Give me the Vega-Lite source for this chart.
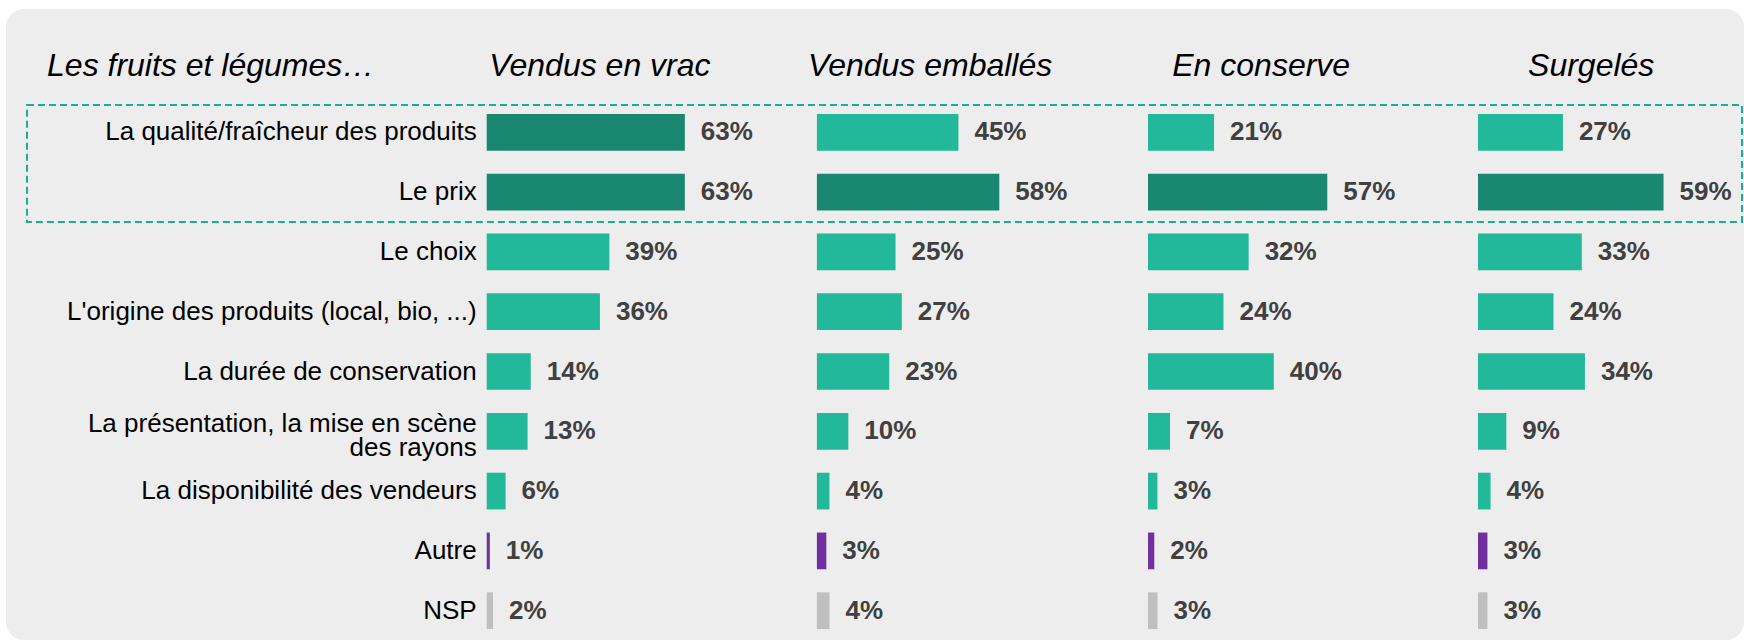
{
  "$schema": "https://vega.github.io/schema/vega-lite/v6.json",
  "width": 1738,
  "height": 631,
  "autosize": {"type": "none"},
  "padding": {"left": 6, "top": 9, "right": 0, "bottom": 0},
  "background": "white",
  "config": {
    "view": {"fill": "#ededed", "stroke": null, "cornerRadius": 18},
    "text": {"font": "Liberation Sans"}
  },
  "data": {
    "values": [
      {"support": "Vendus en vrac", "critere": "La qualité/fraîcheur des produits", "part": 0.63, "groupe": "principal"},
      {"support": "Vendus en vrac", "critere": "Le prix", "part": 0.63, "groupe": "principal"},
      {"support": "Vendus en vrac", "critere": "Le choix", "part": 0.39, "groupe": "secondaire"},
      {"support": "Vendus en vrac", "critere": "L'origine des produits (local, bio, ...)", "part": 0.36, "groupe": "secondaire"},
      {"support": "Vendus en vrac", "critere": "La durée de conservation", "part": 0.14, "groupe": "secondaire"},
      {"support": "Vendus en vrac", "critere": "La présentation, la mise en scène\ndes rayons", "part": 0.13, "groupe": "secondaire"},
      {"support": "Vendus en vrac", "critere": "La disponibilité des vendeurs", "part": 0.06, "groupe": "secondaire"},
      {"support": "Vendus en vrac", "critere": "Autre", "part": 0.01, "groupe": "autre"},
      {"support": "Vendus en vrac", "critere": "NSP", "part": 0.02, "groupe": "nsp"},
      {"support": "Vendus emballés", "critere": "La qualité/fraîcheur des produits", "part": 0.45, "groupe": "secondaire"},
      {"support": "Vendus emballés", "critere": "Le prix", "part": 0.58, "groupe": "principal"},
      {"support": "Vendus emballés", "critere": "Le choix", "part": 0.25, "groupe": "secondaire"},
      {"support": "Vendus emballés", "critere": "L'origine des produits (local, bio, ...)", "part": 0.27, "groupe": "secondaire"},
      {"support": "Vendus emballés", "critere": "La durée de conservation", "part": 0.23, "groupe": "secondaire"},
      {"support": "Vendus emballés", "critere": "La présentation, la mise en scène\ndes rayons", "part": 0.10, "groupe": "secondaire"},
      {"support": "Vendus emballés", "critere": "La disponibilité des vendeurs", "part": 0.04, "groupe": "secondaire"},
      {"support": "Vendus emballés", "critere": "Autre", "part": 0.03, "groupe": "autre"},
      {"support": "Vendus emballés", "critere": "NSP", "part": 0.04, "groupe": "nsp"},
      {"support": "En conserve", "critere": "La qualité/fraîcheur des produits", "part": 0.21, "groupe": "secondaire"},
      {"support": "En conserve", "critere": "Le prix", "part": 0.57, "groupe": "principal"},
      {"support": "En conserve", "critere": "Le choix", "part": 0.32, "groupe": "secondaire"},
      {"support": "En conserve", "critere": "L'origine des produits (local, bio, ...)", "part": 0.24, "groupe": "secondaire"},
      {"support": "En conserve", "critere": "La durée de conservation", "part": 0.40, "groupe": "secondaire"},
      {"support": "En conserve", "critere": "La présentation, la mise en scène\ndes rayons", "part": 0.07, "groupe": "secondaire"},
      {"support": "En conserve", "critere": "La disponibilité des vendeurs", "part": 0.03, "groupe": "secondaire"},
      {"support": "En conserve", "critere": "Autre", "part": 0.02, "groupe": "autre"},
      {"support": "En conserve", "critere": "NSP", "part": 0.03, "groupe": "nsp"},
      {"support": "Surgelés", "critere": "La qualité/fraîcheur des produits", "part": 0.27, "groupe": "secondaire"},
      {"support": "Surgelés", "critere": "Le prix", "part": 0.59, "groupe": "principal"},
      {"support": "Surgelés", "critere": "Le choix", "part": 0.33, "groupe": "secondaire"},
      {"support": "Surgelés", "critere": "L'origine des produits (local, bio, ...)", "part": 0.24, "groupe": "secondaire"},
      {"support": "Surgelés", "critere": "La durée de conservation", "part": 0.34, "groupe": "secondaire"},
      {"support": "Surgelés", "critere": "La présentation, la mise en scène\ndes rayons", "part": 0.09, "groupe": "secondaire"},
      {"support": "Surgelés", "critere": "La disponibilité des vendeurs", "part": 0.04, "groupe": "secondaire"},
      {"support": "Surgelés", "critere": "Autre", "part": 0.03, "groupe": "autre"},
      {"support": "Surgelés", "critere": "NSP", "part": 0.03, "groupe": "nsp"}
    ]
  },
  "encoding": {
    "y": {
      "field": "critere",
      "type": "nominal",
      "axis": null,
      "scale": {
        "type": "band",
        "domain": ["en-tête", "La qualité/fraîcheur des produits", "Le prix", "Le choix", "L'origine des produits (local, bio, ...)", "La durée de conservation", "La présentation, la mise en scène\ndes rayons", "La disponibilité des vendeurs", "Autre", "NSP"],
        "range": [33.6, 631.6],
        "paddingInner": 0,
        "paddingOuter": 0
      }
    }
  },
  "layer": [
    {
      "transform": [{"filter": {"field": "support", "equal": "Vendus en vrac"}}],
      "layer": [
        {
          "transform": [{"aggregate": [{"op": "count", "as": "n"}]}],
          "mark": {"type": "rect", "fill": "#ffffff", "fillOpacity": 0, "stroke": "#1aaf8f", "strokeWidth": 2, "strokeDash": [7, 4]},
          "encoding": {
            "x": {"datum": -1.4617, "type": "quantitative", "scale": {"domain": [-1.5285, 3.9978], "nice": false, "zero": false}, "axis": null},
            "x2": {"datum": 3.9914},
            "y": {"datum": "La qualité/fraîcheur des produits", "type": "nominal", "bandPosition": 0.045},
            "y2": {"datum": "Le choix", "bandPosition": 0}
          }
        },
        {
          "mark": {"type": "bar", "height": {"band": 0.614}},
          "encoding": {
            "x": {"field": "part", "type": "quantitative", "scale": {"domain": [-1.5285, 3.9978], "nice": false, "zero": false}, "axis": null},
            "color": {"field": "groupe", "type": "nominal", "legend": null, "scale": {"domain": ["principal", "secondaire", "autre", "nsp"], "range": ["#1a8870", "#21b999", "#7030a0", "#bfbfbf"]}}
          }
        },
        {
          "mark": {"type": "text", "align": "left", "baseline": "middle", "dx": 16, "fontSize": 26, "fontWeight": "bold", "color": "#404040"},
          "encoding": {
            "x": {"field": "part", "type": "quantitative", "scale": {"domain": [-1.5285, 3.9978], "nice": false, "zero": false}, "axis": null},
            "text": {"field": "part", "type": "quantitative", "format": ".0%"}
          }
        },
        {
          "transform": [{"filter": "indexof(datum.critere, 'rayons') < 0"}],
          "mark": {"type": "text", "align": "right", "baseline": "middle", "dx": -10, "fontSize": 26, "color": "#000000"},
          "encoding": {
            "x": {"datum": 0, "type": "quantitative", "scale": {"domain": [-1.5285, 3.9978], "nice": false, "zero": false}, "axis": null},
            "text": {"field": "critere", "type": "nominal"}
          }
        },
        {
          "transform": [{"filter": "indexof(datum.critere, 'rayons') >= 0"}],
          "mark": {"type": "text", "align": "right", "baseline": "middle", "dx": -10, "dy": -7, "fontSize": 26, "color": "#000000", "lineBreak": "\n", "lineHeight": 24},
          "encoding": {
            "x": {"datum": 0, "type": "quantitative", "scale": {"domain": [-1.5285, 3.9978], "nice": false, "zero": false}, "axis": null},
            "text": {"field": "critere", "type": "nominal"}
          }
        },
        {
          "transform": [{"aggregate": [{"op": "count", "as": "n"}], "groupby": ["support"]}],
          "mark": {"type": "text", "align": "center", "baseline": "alphabetic", "dy": 3.5, "fontSize": 32, "fontStyle": "italic", "color": "#000000"},
          "encoding": {
            "x": {"datum": 0.36, "type": "quantitative", "scale": {"domain": [-1.5285, 3.9978], "nice": false, "zero": false}, "axis": null},
            "y": {"datum": "en-tête", "type": "nominal"},
            "text": {"field": "support", "type": "nominal"}
          }
        },
        {
          "transform": [{"aggregate": [{"op": "count", "as": "n"}]}],
          "mark": {"type": "text", "align": "left", "baseline": "alphabetic", "dy": 3.5, "fontSize": 32, "fontStyle": "italic", "color": "#000000", "text": "Les fruits et légumes…"},
          "encoding": {
            "x": {"datum": -1.398, "type": "quantitative", "scale": {"domain": [-1.5285, 3.9978], "nice": false, "zero": false}, "axis": null},
            "y": {"datum": "en-tête", "type": "nominal"}
          }
        }
      ]
    },
    {
      "transform": [{"filter": {"field": "support", "equal": "Vendus emballés"}}],
      "layer": [
        {
          "mark": {"type": "bar", "height": {"band": 0.614}},
          "encoding": {
            "x": {"field": "part", "type": "quantitative", "scale": {"domain": [-2.5784, 2.9479], "nice": false, "zero": false}, "axis": null},
            "color": {"field": "groupe", "type": "nominal", "legend": null, "scale": {"domain": ["principal", "secondaire", "autre", "nsp"], "range": ["#1a8870", "#21b999", "#7030a0", "#bfbfbf"]}}
          }
        },
        {
          "mark": {"type": "text", "align": "left", "baseline": "middle", "dx": 16, "fontSize": 26, "fontWeight": "bold", "color": "#404040"},
          "encoding": {
            "x": {"field": "part", "type": "quantitative", "scale": {"domain": [-2.5784, 2.9479], "nice": false, "zero": false}, "axis": null},
            "text": {"field": "part", "type": "quantitative", "format": ".0%"}
          }
        },
        {
          "transform": [{"aggregate": [{"op": "count", "as": "n"}], "groupby": ["support"]}],
          "mark": {"type": "text", "align": "center", "baseline": "alphabetic", "dy": 3.5, "fontSize": 32, "fontStyle": "italic", "color": "#000000"},
          "encoding": {
            "x": {"datum": 0.36, "type": "quantitative", "scale": {"domain": [-2.5784, 2.9479], "nice": false, "zero": false}, "axis": null},
            "y": {"datum": "en-tête", "type": "nominal"},
            "text": {"field": "support", "type": "nominal"}
          }
        }
      ]
    },
    {
      "transform": [{"filter": {"field": "support", "equal": "En conserve"}}],
      "layer": [
        {
          "mark": {"type": "bar", "height": {"band": 0.614}},
          "encoding": {
            "x": {"field": "part", "type": "quantitative", "scale": {"domain": [-3.6312, 1.8951], "nice": false, "zero": false}, "axis": null},
            "color": {"field": "groupe", "type": "nominal", "legend": null, "scale": {"domain": ["principal", "secondaire", "autre", "nsp"], "range": ["#1a8870", "#21b999", "#7030a0", "#bfbfbf"]}}
          }
        },
        {
          "mark": {"type": "text", "align": "left", "baseline": "middle", "dx": 16, "fontSize": 26, "fontWeight": "bold", "color": "#404040"},
          "encoding": {
            "x": {"field": "part", "type": "quantitative", "scale": {"domain": [-3.6312, 1.8951], "nice": false, "zero": false}, "axis": null},
            "text": {"field": "part", "type": "quantitative", "format": ".0%"}
          }
        },
        {
          "transform": [{"aggregate": [{"op": "count", "as": "n"}], "groupby": ["support"]}],
          "mark": {"type": "text", "align": "center", "baseline": "alphabetic", "dy": 3.5, "fontSize": 32, "fontStyle": "italic", "color": "#000000"},
          "encoding": {
            "x": {"datum": 0.36, "type": "quantitative", "scale": {"domain": [-3.6312, 1.8951], "nice": false, "zero": false}, "axis": null},
            "y": {"datum": "en-tête", "type": "nominal"},
            "text": {"field": "support", "type": "nominal"}
          }
        }
      ]
    },
    {
      "transform": [{"filter": {"field": "support", "equal": "Surgelés"}}],
      "layer": [
        {
          "mark": {"type": "bar", "height": {"band": 0.614}},
          "encoding": {
            "x": {"field": "part", "type": "quantitative", "scale": {"domain": [-4.6804, 0.8458], "nice": false, "zero": false}, "axis": null},
            "color": {"field": "groupe", "type": "nominal", "legend": null, "scale": {"domain": ["principal", "secondaire", "autre", "nsp"], "range": ["#1a8870", "#21b999", "#7030a0", "#bfbfbf"]}}
          }
        },
        {
          "mark": {"type": "text", "align": "left", "baseline": "middle", "dx": 16, "fontSize": 26, "fontWeight": "bold", "color": "#404040"},
          "encoding": {
            "x": {"field": "part", "type": "quantitative", "scale": {"domain": [-4.6804, 0.8458], "nice": false, "zero": false}, "axis": null},
            "text": {"field": "part", "type": "quantitative", "format": ".0%"}
          }
        },
        {
          "transform": [{"aggregate": [{"op": "count", "as": "n"}], "groupby": ["support"]}],
          "mark": {"type": "text", "align": "center", "baseline": "alphabetic", "dy": 3.5, "fontSize": 32, "fontStyle": "italic", "color": "#000000"},
          "encoding": {
            "x": {"datum": 0.36, "type": "quantitative", "scale": {"domain": [-4.6804, 0.8458], "nice": false, "zero": false}, "axis": null},
            "y": {"datum": "en-tête", "type": "nominal"},
            "text": {"field": "support", "type": "nominal"}
          }
        }
      ]
    }
  ],
  "resolve": {"scale": {"x": "independent"}}
}
